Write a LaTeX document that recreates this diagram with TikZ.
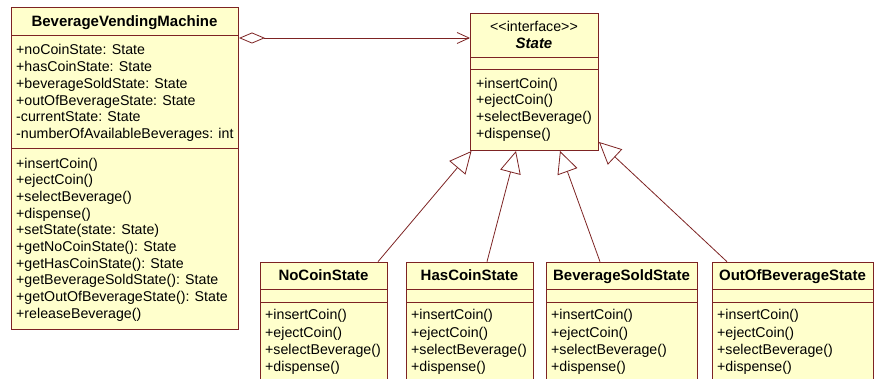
\documentclass[tikz,border=0pt]{standalone}
\usepackage{fontspec}
\setmainfont{Liberation Sans}
\usetikzlibrary{arrows.meta,calc}
\definecolor{umlborder}{RGB}{125,35,35}
\definecolor{umlfill}{RGB}{255,255,204}
\begin{document}
\begin{tikzpicture}[x=1pt,y=-1pt,
  classbox/.style={draw=umlborder, fill=umlfill, line width=1pt, rectangle, inner sep=0pt, anchor=north west},
  txt/.style={anchor=base west, inner sep=0pt, font=\fontsize{14.2}{16}\selectfont},
  ttl/.style={anchor=base, inner sep=0pt, font=\fontsize{15}{16}\selectfont\bfseries},
  sepline/.style={draw=umlborder, line width=1pt},
  conn/.style={draw=umlborder, line width=0.8pt},
  gen/.style={conn, -{Triangle[open, length=22pt, width=21pt, fill=white]}}]
\useasboundingbox (0,0) rectangle (879,379);
\clip (0,0) rectangle (879,379);

% BeverageVendingMachine
\node[classbox, minimum width=227pt, minimum height=322pt] (bvm) at (11,7) {};
\draw[sepline] (11,36) -- (238,36);
\draw[sepline] (11,149) -- (238,149);
\node[ttl] (bvm-t) at (124.5,26.5) {BeverageVendingMachine};
\foreach \t [count=\i] in {+noCoinState: State,+hasCoinState: State,+beverageSoldState: State,+outOfBeverageState: State,-currentState: State,-numberOfAvailableBeverages: int}
  \node[txt] (bvm-a\i) at (16,{55+16.67*(\i-1)}) {\t};
\foreach \t [count=\i] in {+insertCoin(),+ejectCoin(),+selectBeverage(),+dispense(),+setState(state: State),+getNoCoinState(): State,+getHasCoinState(): State,+getBeverageSoldState(): State,+getOutOfBeverageState(): State,+releaseBeverage()}
  \node[txt] (bvm-m\i) at (16,{168.3+16.67*(\i-1)}) {\t};

% State interface
\node[classbox, minimum width=128pt, minimum height=137.3pt] (state) at (470,12.7) {};
\draw[sepline] (470,57.3) -- (598,57.3);
\draw[sepline] (470,69.3) -- (598,69.3);
\node[ttl, font=\fontsize{14.2}{16}\selectfont] (state-s) at (534,31.7) {<\kern0pt<interface>\kern0pt>};
\node[ttl, font=\fontsize{15}{16}\selectfont\bfseries\itshape] (state-t) at (534,48.5) {State};
\foreach \t [count=\i] in {+insertCoin(),+ejectCoin(),+selectBeverage(),+dispense()}
  \node[txt] (state-m\i) at (476,{88.3+16.67*(\i-1)}) {\t};

% concrete states
\foreach \n/\name/\xl/\xr in {nocoin/NoCoinState/260/387,hascoin/HasCoinState/406/533,bevsold/BeverageSoldState/546/697,outof/OutOfBeverageState/712/873} {
  \node[classbox, minimum width={(\xr-\xl)*1pt}, minimum height=130pt] (\n) at (\xl,261.7) {};
  \draw[sepline] (\xl,290) -- (\xr,290);
  \draw[sepline] (\xl,302.3) -- (\xr,302.3);
  \node[ttl] (\n-t) at ({(\xl+\xr)/2},281) {\name};
  \foreach \t [count=\i] in {+insertCoin(),+ejectCoin(),+selectBeverage(),+dispense()}
    \node[txt] (\n-m\i) at ({\xl+5},{320+17.2*(\i-1)}) {\t};
}

% aggregation
\coordinate (agg-s) at ($(bvm.north east)+(0,31)$);
\coordinate (agg-e) at ($(state.north west)+(0,25.3)$);
\draw[conn, {Diamond[open, length=26pt, width=11pt, fill=white]}-{Straight Barb[length=12pt, width=11pt]}] (agg-s) -- (agg-e);

% generalizations
\coordinate (nc-s) at ($(nocoin.north west)+(118,0)$);
\coordinate (nc-e) at ($(state.south west)+(1.5,0)$);
\coordinate (hc-s) at ($(hascoin.north west)+(81,0)$);
\coordinate (hc-e) at ($(state.south west)+(46,0)$);
\coordinate (bs-s) at ($(bevsold.north west)+(54,0)$);
\coordinate (bs-e) at ($(state.south west)+(90,0)$);
\coordinate (oo-s) at ($(outof.north west)+(15,0)$);
\coordinate (oo-e) at ($(state.south east)+(0,-9)$);
\draw[gen] (nc-s) -- (nc-e);
\draw[gen] (hc-s) -- (hc-e);
\draw[gen] (bs-s) -- (bs-e);
\draw[gen] (oo-s) -- (oo-e);
\end{tikzpicture}
\end{document}
